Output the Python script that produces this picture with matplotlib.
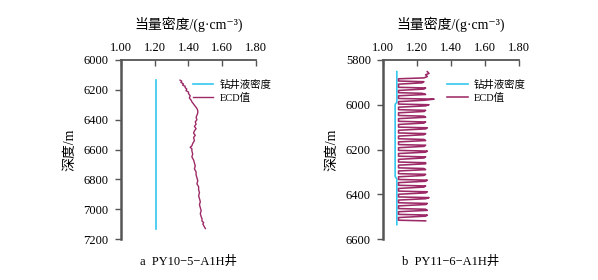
import matplotlib
matplotlib.use("Agg")
import matplotlib.pyplot as plt
from matplotlib.ticker import FormatStrFormatter

plt.rcParams['font.family'] = ['Liberation Serif', 'Noto Sans CJK SC', 'DejaVu Sans']
plt.rcParams['axes.unicode_minus'] = False

x_ticks = [1.00, 1.20, 1.40, 1.60, 1.80]
xlabel = "当量密度/(g·cm⁻³)"
ylabel = "深度/m"
legend_labels = ["钻井液密度", "ECD值"]
captions = ["a  PY10−5−A1H井", "b  PY11−6−A1H井"]

# Panel a
a_yticks = [6000, 6200, 6400, 6600, 6800, 7000, 7200]
a_mud_depth = [6135, 7130]
a_mud_value = [1.21, 1.21]
a_ecd_depth = [6135, 6142, 6150, 6160, 6168, 6176, 6185, 6195, 6205, 6215,
               6225, 6240, 6255, 6268, 6280, 6295, 6310, 6325, 6340, 6355,
               6370, 6385, 6400, 6415, 6430, 6445, 6460, 6475, 6490, 6505,
               6520, 6540, 6560, 6575, 6585, 6595, 6610, 6630, 6650, 6670,
               6690, 6710, 6730, 6750, 6770, 6790, 6810, 6830, 6850, 6870,
               6890, 6910, 6930, 6950, 6970, 6990, 7010, 7030, 7050, 7065,
               7080, 7090, 7100, 7110, 7120, 7130]
a_ecd_value = [1.35, 1.36, 1.355, 1.37, 1.365, 1.38, 1.38, 1.39, 1.385, 1.40,
               1.40, 1.41, 1.405, 1.415, 1.42, 1.43, 1.44, 1.45, 1.455, 1.455,
               1.45, 1.445, 1.45, 1.44, 1.445, 1.435, 1.445, 1.435, 1.43, 1.44,
               1.43, 1.435, 1.425, 1.42, 1.41, 1.42, 1.42, 1.425, 1.42, 1.43,
               1.435, 1.44, 1.435, 1.445, 1.445, 1.45, 1.455, 1.45, 1.46, 1.46,
               1.465, 1.46, 1.465, 1.47, 1.465, 1.47, 1.475, 1.47, 1.475, 1.48,
               1.48, 1.49, 1.485, 1.49, 1.495, 1.50]

# Panel b
b_yticks = [5800, 6000, 6200, 6400, 6600]
b_mud_depth = [5852, 5990, 5998, 6320, 6332, 6536]
b_mud_value = [1.08, 1.08, 1.07, 1.07, 1.08, 1.08]
b_ecd_depth = [5852, 5860, 5866, 5874, 5880,
               5884, 5894, 5897, 5902, 5908,
               5912, 5922, 5925, 5930, 5936,
               5937, 5946, 5949, 5954, 5960,
               5962, 5972, 5975, 5980, 5986,
               5988, 5997, 6000, 6005, 6011,
               6013, 6022, 6025, 6030, 6036,
               6038, 6048, 6051, 6056, 6062,
               6064, 6074, 6077, 6082, 6088,
               6090, 6100, 6103, 6108, 6114,
               6116, 6126, 6129, 6134, 6140,
               6142, 6152, 6155, 6160, 6166,
               6168, 6178, 6181, 6186, 6192,
               6194, 6204, 6207, 6212, 6218,
               6220, 6230, 6233, 6238, 6244,
               6246, 6256, 6259, 6264, 6270,
               6272, 6282, 6285, 6290, 6296,
               6298, 6308, 6311, 6316, 6322,
               6324, 6334, 6337, 6342, 6348,
               6350, 6360, 6363, 6368, 6374,
               6376, 6386, 6389, 6394, 6400,
               6402, 6412, 6415, 6420, 6426,
               6428, 6438, 6441, 6446, 6452,
               6454, 6464, 6467, 6472, 6478,
               6480, 6490, 6493, 6498, 6504,
               6506, 6516, 6519]
b_ecd_value = [1.26, 1.27, 1.25, 1.26, 1.24,
               1.09, 1.09, 1.24, 1.23, 1.09,
               1.09, 1.09, 1.25, 1.24, 1.09,
               1.09, 1.09, 1.23, 1.25, 1.09,
               1.09, 1.09, 1.30, 1.24, 1.09,
               1.09, 1.09, 1.27, 1.25, 1.09,
               1.09, 1.09, 1.25, 1.24, 1.09,
               1.09, 1.09, 1.24, 1.25, 1.09,
               1.09, 1.09, 1.25, 1.24, 1.09,
               1.09, 1.09, 1.26, 1.25, 1.09,
               1.09, 1.09, 1.25, 1.24, 1.09,
               1.09, 1.09, 1.24, 1.25, 1.09,
               1.09, 1.09, 1.25, 1.24, 1.09,
               1.09, 1.09, 1.26, 1.25, 1.09,
               1.09, 1.09, 1.25, 1.24, 1.09,
               1.09, 1.09, 1.25, 1.25, 1.09,
               1.09, 1.09, 1.24, 1.25, 1.09,
               1.09, 1.09, 1.25, 1.24, 1.09,
               1.09, 1.09, 1.26, 1.25, 1.09,
               1.09, 1.09, 1.25, 1.24, 1.09,
               1.09, 1.09, 1.26, 1.25, 1.09,
               1.09, 1.09, 1.27, 1.25, 1.09,
               1.09, 1.09, 1.26, 1.25, 1.09,
               1.09, 1.09, 1.25, 1.26, 1.09,
               1.09, 1.09, 1.26, 1.25, 1.09,
               1.09, 1.09, 1.25]

MUD_C = "#35c6ee"
ECD_C = "#9c2a66"
SPINE_C = "#555555"

fig = plt.figure(figsize=(5.98, 2.80), dpi=100)

panels = [
    dict(rect=[121/598, 41/280, 135/598, 179/280], ylim=(7200, 6000), yticks=a_yticks,
         mud=(a_mud_value, a_mud_depth), ecd=(a_ecd_value, a_ecd_depth), ecd_lw=1.0,
         leg_x=0.53, ylab_x=70/598, cap=captions[0]),
    dict(rect=[383.3/598, 41/280, 135.4/598, 179/280], ylim=(6600, 5800), yticks=b_yticks,
         mud=(b_mud_value, b_mud_depth), ecd=(b_ecd_value, b_ecd_depth), ecd_lw=1.15,
         leg_x=0.47, ylab_x=332/598, cap=captions[1]),
]

for p in panels:
    ax = fig.add_axes(p["rect"])
    l1, = ax.plot(p["mud"][0], p["mud"][1], color=MUD_C, lw=1.2)
    l2, = ax.plot(p["ecd"][0], p["ecd"][1], color=ECD_C, lw=p["ecd_lw"])
    ax.set_xlim(1.0, 1.8)
    ax.set_ylim(*p["ylim"])
    ax.set_xticks(x_ticks)
    ax.set_yticks(p["yticks"])
    ax.xaxis.set_major_formatter(FormatStrFormatter('%.2f'))
    ax.xaxis.tick_top()
    ax.spines['right'].set_visible(False)
    ax.spines['bottom'].set_visible(False)
    ax.spines['top'].set_color(SPINE_C)
    ax.spines['left'].set_color(SPINE_C)
    ax.spines['top'].set_linewidth(1.3)
    ax.spines['left'].set_linewidth(1.8)
    ax.tick_params(axis='x', direction='in', length=4, width=1.0, color=SPINE_C,
                   labelsize=9, pad=4, top=True, bottom=False)
    ax.tick_params(axis='y', direction='out', length=4, width=1.0, color=SPINE_C,
                   labelsize=9, pad=5)
    ax.set_xlabel(xlabel, fontsize=10)
    ax.xaxis.set_label_position('top')
    ax.xaxis.labelpad = 10
    fig.text(p["ylab_x"], (280 - 150) / 280, ylabel, rotation=90,
             ha='center', va='center', fontsize=10)
    cx = p["rect"][0] + p["rect"][2] / 2
    fig.text(cx, (280 - 262) / 280, p["cap"], ha='center', va='center', fontsize=9)
    ax.legend([l1, l2], legend_labels, loc='upper left', bbox_to_anchor=(p["leg_x"], 0.89),
              frameon=False, fontsize=7.5, handlelength=2.0, handletextpad=0.6,
              labelspacing=0.3, borderpad=0, borderaxespad=0)

fig.savefig("out.png", dpi=100)
